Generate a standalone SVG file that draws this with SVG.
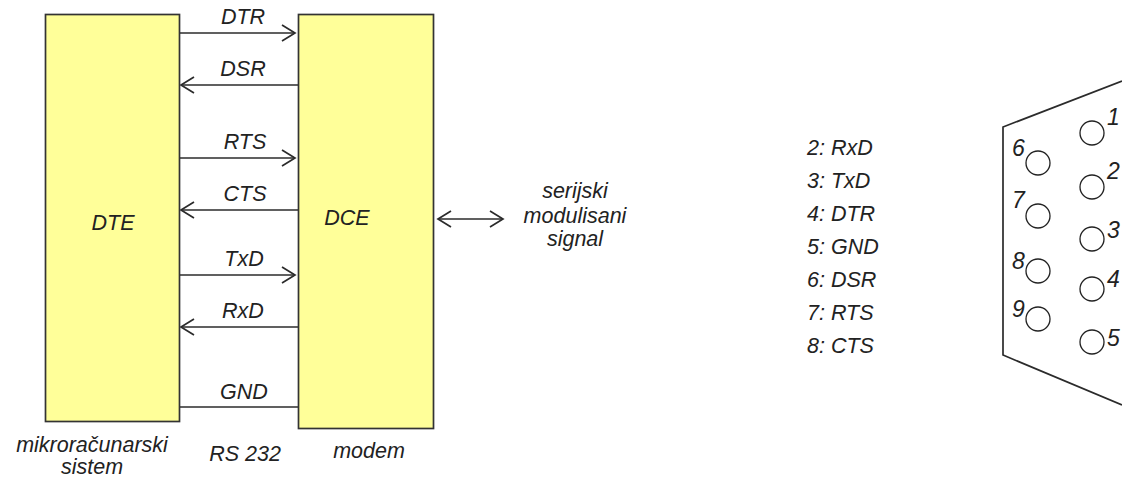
<svg xmlns="http://www.w3.org/2000/svg" width="1122" height="479" viewBox="0 0 1122 479">
<defs>
<marker id="a" markerUnits="userSpaceOnUse" markerWidth="16" markerHeight="18" refX="14" refY="9" orient="auto-start-reverse" viewBox="0 0 16 18"><path d="M1 1L14 9L1 17" fill="none" stroke="#2b2b2b" stroke-width="1.7"/></marker>
</defs>
<style>
text{font-family:"Liberation Sans",Arial,sans-serif;font-style:italic;font-size:21.500px;fill:#222}
.m{text-anchor:middle}
.b{fill:#ffff99;stroke:#333;stroke-width:1.7}
.c{stroke:#2b2b2b;stroke-width:1.7;fill:none}
.ar{marker-end:url(#a)}
.p{fill:none;stroke:#222;stroke-width:1.3}
.d{font-size:23px}
</style>
<rect width="1122" height="479" fill="#fff"/>
<g id="connectors">
<path class="c ar" d="M179 33H295"/>
<path class="c" style="marker-start:url(#a)" d="M181 85H298"/>
<path class="c ar" d="M179 158H295"/>
<path class="c" style="marker-start:url(#a)" d="M181 210H298"/>
<path class="c ar" d="M179 275H295"/>
<path class="c" style="marker-start:url(#a)" d="M181 327H298"/>
<path class="c" d="M178 407H298"/>
<path class="c ar" style="marker-start:url(#a)" d="M438 219H503"/>
</g>
<g id="dte"><rect class="b" x="45.500" y="14.500" width="134" height="407"/><text class="m" x="113" y="230">DTE</text></g>
<g id="dce"><rect class="b" x="298.500" y="14.500" width="135" height="414"/><text class="m" x="347" y="225">DCE</text></g>
<g id="labels">
<text class="m" x="243" y="24">DTR</text>
<text class="m" x="243" y="76">DSR</text>
<text class="m" x="245" y="149">RTS</text>
<text class="m" x="245" y="201">CTS</text>
<text class="m" x="244" y="266">TxD</text>
<text class="m" x="243" y="318">RxD</text>
<text class="m" x="244" y="399">GND</text>
<text class="m" x="92" y="452">mikroračunarski</text>
<text class="m" x="92" y="474">sistem</text>
<text class="m" x="245" y="461">RS 232</text>
<text class="m" x="369" y="458">modem</text>
<text class="m" x="575" y="198">serijski</text>
<text class="m" x="575" y="223">modulisani</text>
<text class="m" x="575" y="246">signal</text>
<text x="807" y="155">2: RxD</text>
<text x="807" y="188">3: TxD</text>
<text x="807" y="221">4: DTR</text>
<text x="807" y="254">5: GND</text>
<text x="807" y="287">6: DSR</text>
<text x="807" y="320">7: RTS</text>
<text x="807" y="353">8: CTS</text>
</g>
<g id="connector-db9">
<path class="c" d="M1122 81L1003 127V355L1122 405"/>
<circle class="p" cx="1092" cy="133" r="12"/><circle class="p" cx="1092" cy="187" r="12"/><circle class="p" cx="1092" cy="239" r="12"/><circle class="p" cx="1092" cy="289" r="12"/><circle class="p" cx="1092" cy="342" r="12"/>
<circle class="p" cx="1038" cy="163" r="12"/><circle class="p" cx="1038" cy="216" r="12"/><circle class="p" cx="1038" cy="271" r="12"/><circle class="p" cx="1038" cy="319" r="12"/>
<text class="d" x="1107" y="125">1</text><text class="d" x="1107" y="179">2</text><text class="d" x="1107" y="238">3</text><text class="d" x="1107" y="287">4</text><text class="d" x="1107" y="346">5</text>
<text class="d" x="1012" y="156">6</text><text class="d" x="1012" y="208">7</text><text class="d" x="1012" y="269">8</text><text class="d" x="1012" y="317">9</text>
</g>
</svg>
